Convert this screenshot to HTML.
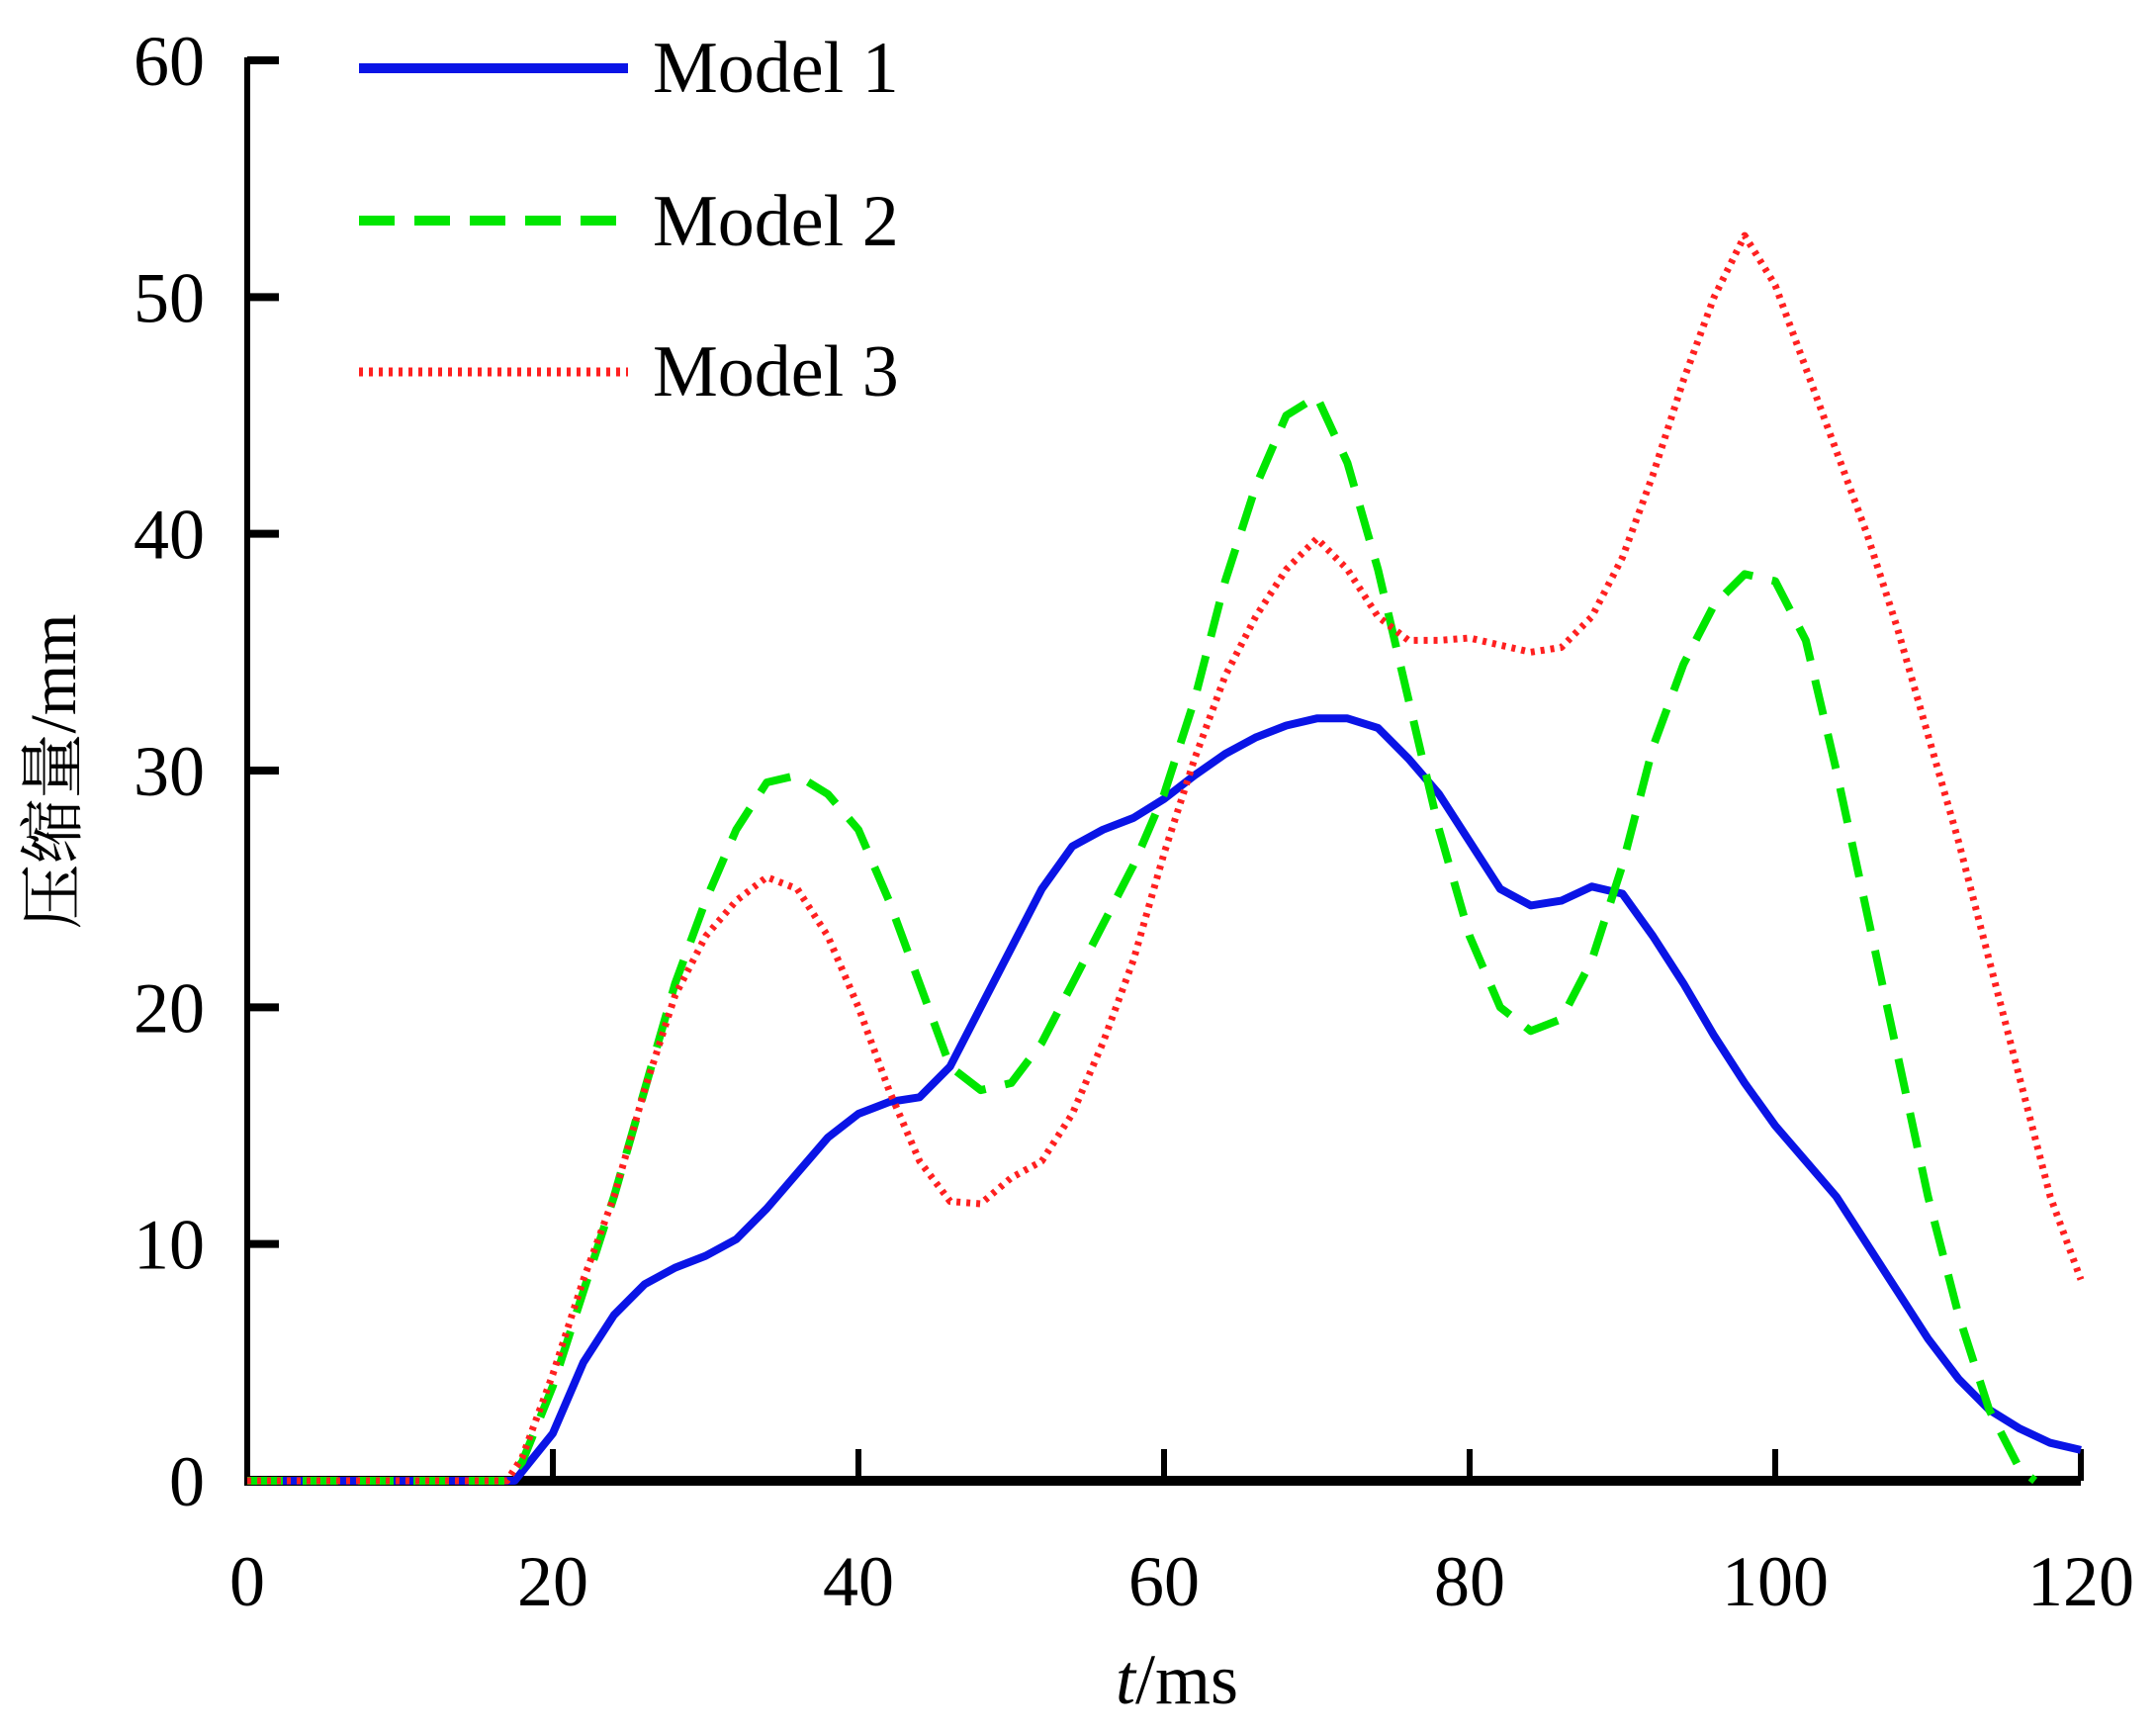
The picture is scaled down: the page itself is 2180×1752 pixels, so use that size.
<!DOCTYPE html>
<html><head><meta charset="utf-8"><style>
html,body{margin:0;padding:0;background:#fff}
svg text{font-family:"Liberation Serif","Noto Serif CJK SC","Noto Sans CJK SC",serif;fill:#000}
</style></head><body>
<svg id="chart" width="2180" height="1747" viewBox="0 0 2180 1747" xmlns="http://www.w3.org/2000/svg">
<g id="axes"></g>
<g id="series"></g>
<g id="legend"></g>
</svg>
<script>
const xTicks=[0,20,40,60,80,100,120];
const yTicks=[0,10,20,30,40,50,60];
const m1x=[0,17.5,20,22,24,26,28,30,32,34,36,38,40,42,44,46,48,50,52,54,56,58,60,62,64,66,68,70,72,74,76,78,80,82,84,86,88,90,92,94,96,98,100,102,104,106,108,110,112,114,116,118,120];
const m1y=[0,0,2,5,7,8.3,9,9.5,10.2,11.5,13,14.5,15.5,16,16.2,17.5,20,22.5,25,26.8,27.5,28,28.8,29.8,30.7,31.4,31.9,32.2,32.2,31.8,30.5,29,27,25,24.3,24.5,25.1,24.8,23,21,18.8,16.8,15,13.5,12,10,8,6,4.3,3,2.2,1.6,1.3];
const m2x=[0,17,18,20,22,24,26,28,30,32,34,36,38,40,42,44,46,48,50,52,54,56,58,60,62,64,66,68,70,72,74,76,78,80,82,84,86,88,90,92,94,96,98,100,102,104,106,108,110,112,114,116,117];
const m2y=[0,0,0.8,4,8,12,16.5,21,24.5,27.5,29.5,29.8,29,27.5,24.5,21,17.5,16.5,16.8,18.5,21,23.5,26,29,33,38,42,45,45.8,43,38.5,33,27.5,23,20,19,19.5,22,26,31,34.5,37,38.3,38,35.5,30,24,18,12,7,3,0.5,0];
const m3x=[0,17,18,20,22,24,26,28,30,32,34,36,38,40,42,44,46,48,50,52,54,56,58,60,62,64,66,68,70,72,74,76,78,80,82,84,86,88,90,92,94,96,98,100,102,104,106,108,110,112,114,116,118,120];
const m3y=[0,0,1,4.5,8.5,12,16.5,20.5,23,24.5,25.5,25,23,20,16.5,13.5,11.8,11.7,12.8,13.5,15.5,18.5,22,26.5,30.5,34,36.5,38.5,39.8,38.5,36.5,35.5,35.5,35.6,35.3,35,35.2,36.5,39,42.5,46.5,50,52.6,50.5,47,43.5,40,36,31.5,27,22,17,12,8.5];
const seriesNames=["Model 1","Model 2","Model 3"];

const NS="http://www.w3.org/2000/svg";
const X0=250,X1=2104,Y0=1497,Y1=61;
function sx(v){return X0+(v-0)/(120-0)*(X1-X0);}
function sy(v){return Y0-(v-0)/(60-0)*(Y0-Y1);}
function mk(tag,attrs,parent){const e=document.createElementNS(NS,tag);for(const k in attrs)e.setAttribute(k,attrs[k]);parent.appendChild(e);return e;}
const axes=document.getElementById('axes');
let e;
e=mk('line',{x1:X0,y1:Y0,x2:X1,y2:Y0,stroke:'#000','stroke-width':10},axes);


e=mk('line',{x1:X0,y1:Y0+5,x2:X0,y2:Y1-3,stroke:'#000','stroke-width':6},axes);


xTicks.forEach(t=>{
  if(t>0){
    const l=mk('line',{x1:sx(t),y1:Y0,x2:sx(t),y2:Y0-32,stroke:'#000','stroke-width':6},axes);
    
    
  }
  const tx=mk('text',{x:sx(t),y:1623,'font-size':72,'text-anchor':'middle'},axes);
  tx.textContent=t;
  
  
});
yTicks.forEach(t=>{
  if(t>0){
    const l=mk('line',{x1:X0,y1:sy(t),x2:X0+32,y2:sy(t),stroke:'#000','stroke-width':8},axes);
    
    
  }
  const tx=mk('text',{x:207,y:sy(t)+25,'font-size':72,'text-anchor':'end'},axes);
  tx.textContent=t;
  
  
});
const xt=mk('text',{x:1190,y:1722,'font-size':72,'text-anchor':'middle'},axes);
xt.innerHTML='<tspan font-style="italic">t</tspan>/ms';


const yt=mk('text',{x:0,y:0,'font-size':66,'text-anchor':'middle',transform:'translate(76,780) rotate(-90)'},axes);
yt.textContent='压缩量/mm';



const styles=[
 {stroke:'#0a14e6',w:8,dash:''},
 {stroke:'#00e600',w:8,dash:'36 20'},
 {stroke:'#ff2020',w:7,dash:'4 6'}];
const sg=document.getElementById('series');
[[m1x,m1y],[m2x,m2y],[m3x,m3y]].forEach((s,i)=>{
  const d=s[0].map((x,j)=>(j?'L':'M')+sx(x).toFixed(1)+','+sy(s[1][j]).toFixed(1)).join(' ');
  const p=mk('path',{d:d,fill:'none',stroke:styles[i].stroke,'stroke-width':styles[i].w,'stroke-dasharray':styles[i].dash,'stroke-linejoin':'round'},sg);
  
  
});
const lg=document.getElementById('legend');
const ly=[69,223,376],lb=[93,248,400];
seriesNames.forEach((n,i)=>{
  const l=mk('line',{x1:363,y1:ly[i],x2:635,y2:ly[i],stroke:styles[i].stroke,'stroke-width':styles[i].w+2,'stroke-dasharray':styles[i].dash},lg);
  
  
  const t=mk('text',{x:660,y:lb[i],'font-size':74},lg);
  t.textContent=n;
  
  
});
</script>
</body></html>
